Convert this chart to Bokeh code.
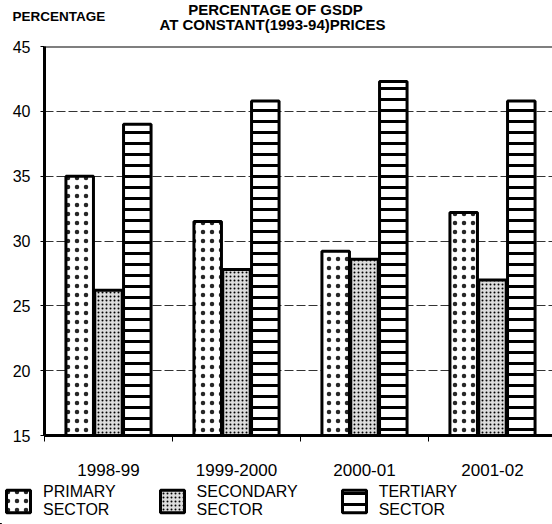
from bokeh.plotting import figure
from bokeh.layouts import column
from bokeh.models import (Range1d, FixedTicker, Legend, LegendItem, Span,
                          ColumnDataSource)
from bokeh.core.properties import value
from bokeh.embed import file_html
from bokeh.resources import INLINE

years = ["1998-99", "1999-2000", "2000-01", "2001-02"]
primary = [35.0, 31.5, 29.2, 32.2]
secondary = [26.2, 27.8, 28.6, 27.0]
tertiary = [39.0, 40.8, 42.3, 40.8]
y_ticks = [15, 20, 25, 30, 35, 40, 45]
sector_labels = ["PRIMARY\nSECTOR", "SECONDARY\nSECTOR", "TERTIARY\nSECTOR"]
title_text = "PERCENTAGE OF GSDP"
subtitle_text = "AT CONSTANT(1993-94)PRICES"
ylabel_text = "PERCENTAGE"

FONT = "Liberation Sans"
W = 552

styles = [
    dict(fill_color="white", hatch_pattern="dot", hatch_scale=9, hatch_weight=1,
         hatch_alpha=0.85),
    dict(fill_color="#dcdcdc", hatch_pattern="dot", hatch_scale=4, hatch_weight=1),
    dict(fill_color="white", hatch_pattern="horizontal_line", hatch_scale=11,
         hatch_weight=3),
]
common = dict(line_color="black", line_width=3, hatch_color="black")

# ---------- header ----------
hdr = figure(width=W, height=38, output_backend="svg", toolbar_location=None,
             x_range=Range1d(0, W), y_range=Range1d(38, 0),
             min_border=0, outline_line_color=None, frame_align=False)
hdr.axis.visible = False
hdr.grid.visible = False
hdr.text(x=[275], y=[0], text=[title_text], text_font=value(FONT),
         text_font_style="bold", text_font_size="15px",
         text_baseline="top", text_align="center", text_color="black")
hdr.text(x=[12], y=[16], text=[ylabel_text], text_font=value(FONT),
         text_font_style="bold", text_font_size="13.5px",
         text_baseline="middle", text_align="left", text_color="black")
hdr.text(x=[272], y=[24], text=[subtitle_text], text_font=value(FONT),
         text_font_style="bold", text_font_size="15px",
         text_baseline="middle", text_align="center", text_color="black")

# ---------- main chart ----------
idx = list(range(len(years)))
centers = [i + 0.5 for i in idx]
src = ColumnDataSource(dict(
    x1=[c - 0.225 for c in centers], x2=centers, x3=[c + 0.225 for c in centers],
    base=[15] * len(years), p=primary, s=secondary, t=tertiary))

p = figure(width=W, height=442, output_backend="svg", toolbar_location=None,
           x_range=Range1d(0, 508 / 128), y_range=Range1d(15, 45),
           min_border_left=44, min_border_right=0, min_border_top=8,
           min_border_bottom=45, frame_align=False)
p.outline_line_color = None

bw = 0.215
for xcol, ycol, st in zip(["x1", "x2", "x3"], ["p", "s", "t"], styles):
    p.vbar(x=xcol, top=ycol, bottom="base", width=bw, source=src, **common, **st)

p.xgrid.visible = False
p.ygrid.ticker = FixedTicker(ticks=[20, 25, 30, 35, 40])
p.ygrid.grid_line_color = "#333333"
p.ygrid.grid_line_dash = "9 3"
p.ygrid.grid_line_width = 1
p.add_layout(Span(location=45, dimension="width", line_color="black", line_width=2))

p.yaxis.ticker = FixedTicker(ticks=y_ticks)
p.yaxis.axis_line_width = 3
p.yaxis.major_tick_out = 4
p.yaxis.major_tick_in = 0
p.yaxis.minor_tick_line_color = None
p.yaxis.major_label_standoff = 10
p.yaxis.major_label_text_font = FONT
p.yaxis.major_label_text_font_size = "16px"
p.yaxis.major_label_text_color = "black"

p.xaxis.ticker = FixedTicker(ticks=centers, minor_ticks=idx)
p.xaxis.major_label_overrides = {c: y for c, y in zip(centers, years)}
p.xaxis.axis_line_width = 3
p.xaxis.major_tick_out = 0
p.xaxis.major_tick_in = 0
p.xaxis.minor_tick_out = 6
p.xaxis.minor_tick_in = 0
p.xaxis.minor_tick_line_width = 1
p.xaxis.major_label_standoff = 22
p.xaxis.major_label_text_font = FONT
p.xaxis.major_label_text_font_size = "17px"
p.xaxis.major_label_text_color = "black"

# ---------- legend footer (same data, drawn off-range so only swatches show) ----------
ftr = figure(width=W, height=44, output_backend="svg", toolbar_location=None,
             x_range=Range1d(100, 101), y_range=Range1d(100, 101),
             min_border=0, outline_line_color=None, frame_align=False)
ftr.axis.visible = False
ftr.grid.visible = False
items = []
for lab, xcol, ycol, st in zip(sector_labels, ["x1", "x2", "x3"], ["p", "s", "t"], styles):
    r = ftr.vbar(x=xcol, top=ycol, bottom="base", width=bw, source=src, **common, **st)
    items.append(LegendItem(label=lab, renderers=[r]))
legend = Legend(items=items, orientation="horizontal", location="top_left",
                glyph_width=30, glyph_height=28, label_standoff=10, spacing=41,
                padding=0, margin=3, border_line_color=None,
                background_fill_alpha=0,
                label_text_font=FONT, label_text_font_size="16px",
                label_text_color="black")
ftr.add_layout(legend, "center")

layout = column(hdr, p, ftr, spacing=0)
open("out.html", "w").write(file_html(layout, INLINE))
